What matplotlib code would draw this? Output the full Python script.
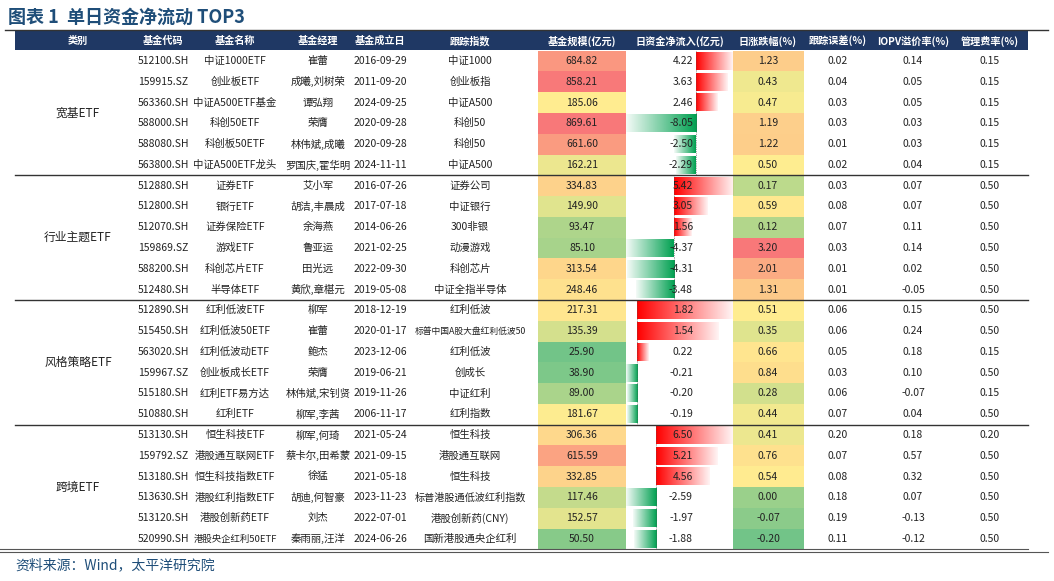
import numpy as np
import matplotlib
matplotlib.use("Agg")
import matplotlib.pyplot as plt
from matplotlib.colors import LinearSegmentedColormap, to_rgb

plt.rcParams["font.family"] = ["Noto Sans CJK SC", "DejaVu Sans"]

groups = ["宽基ETF", "行业主题ETF", "风格策略ETF", "跨境ETF"]
codes = ["512100.SH","159915.SZ","563360.SH","588000.SH","588080.SH","563800.SH",
         "512880.SH","512800.SH","512070.SH","159869.SZ","588200.SH","512480.SH",
         "512890.SH","515450.SH","563020.SH","159967.SZ","515180.SH","510880.SH",
         "513130.SH","159792.SZ","513180.SH","513630.SH","513120.SH","520990.SH"]
names = ["中证1000ETF","创业板ETF","中证A500ETF基金","科创50ETF","科创板50ETF","中证A500ETF龙头",
         "证券ETF","银行ETF","证券保险ETF","游戏ETF","科创芯片ETF","半导体ETF",
         "红利低波ETF","红利低波50ETF","红利低波动ETF","创业板成长ETF","红利ETF易方达","红利ETF",
         "恒生科技ETF","港股通互联网ETF","恒生科技指数ETF","港股红利指数ETF","港股创新药ETF","港股央企红利50ETF"]
managers = ["崔蕾","成曦,刘树荣","谭弘翔","荣膺","林伟斌,成曦","罗国庆,霍华明",
            "艾小军","胡洁,丰晨成","余海燕","鲁亚运","田光远","黄欣,章椹元",
            "柳军","崔蕾","鲍杰","荣膺","林伟斌,宋钊贤","柳军,李茜",
            "柳军,何琦","蔡卡尔,田希蒙","徐猛","胡迪,何智豪","刘杰","秦雨丽,汪洋"]
dates = ["2016-09-29","2011-09-20","2024-09-25","2020-09-28","2020-09-28","2024-11-11",
         "2016-07-26","2017-07-18","2014-06-26","2021-02-25","2022-09-30","2019-05-08",
         "2018-12-19","2020-01-17","2023-12-06","2019-06-21","2019-11-26","2006-11-17",
         "2021-05-24","2021-09-15","2021-05-18","2023-11-23","2022-07-01","2024-06-26"]
indexes = ["中证1000","创业板指","中证A500","科创50","科创50","中证A500",
           "证券公司","中证银行","300非银","动漫游戏","科创芯片","中证全指半导体",
           "红利低波","标普中国A股大盘红利低波50","红利低波","创成长","中证红利","红利指数",
           "恒生科技","港股通互联网","恒生科技","标普港股通低波红利指数","港股创新药(CNY)","国新港股通央企红利"]
sizes = [684.82,858.21,185.06,869.61,661.60,162.21,
         334.83,149.90,93.47,85.10,313.54,248.46,
         217.31,135.39,25.90,38.90,89.00,181.67,
         306.36,615.59,332.85,117.46,152.57,50.50]
flows = [4.22,3.63,2.46,-8.05,-2.50,-2.29,
         5.42,3.05,1.56,-4.37,-4.31,-3.48,
         1.82,1.54,0.22,-0.21,-0.20,-0.19,
         6.50,5.21,4.56,-2.59,-1.97,-1.88]
changes = [1.23,0.43,0.47,1.19,1.22,0.50,
           0.17,0.59,0.12,3.20,2.01,1.31,
           0.51,0.35,0.66,0.84,0.28,0.44,
           0.41,0.76,0.54,0.00,-0.07,-0.20]
track_err = [0.02,0.04,0.03,0.03,0.01,0.02,
             0.03,0.08,0.07,0.03,0.01,0.01,
             0.06,0.06,0.05,0.03,0.06,0.07,
             0.20,0.07,0.08,0.18,0.19,0.11]
iopv = [0.14,0.05,0.05,0.03,0.03,0.04,
        0.07,0.07,0.11,0.14,0.02,-0.05,
        0.15,0.24,0.18,0.10,-0.07,0.04,
        0.18,0.57,0.32,0.07,-0.13,-0.12]
fees = [0.15,0.15,0.15,0.15,0.15,0.15,
        0.50,0.50,0.50,0.50,0.50,0.50,
        0.50,0.50,0.15,0.50,0.15,0.50,
        0.20,0.50,0.50,0.50,0.50,0.50]
headers = ["类别","基金代码","基金名称","基金经理","基金成立日","跟踪指数",
           "基金规模(亿元)","日资金净流入(亿元)","日涨跌幅(%)","跟踪误差(%)","IOPV溢价率(%)","管理费率(%)"]

fig = plt.figure(figsize=(10.54, 5.81), dpi=100)
ax = fig.add_axes([0, 0, 1, 1])
ax.set_xlim(0, 1054); ax.set_ylim(581, 0); ax.axis("off")

navy = "#1F3864"
ax.text(8, 17, "图表 1  单日资金净流动 TOP3", fontsize=13, fontweight="bold", color="#1F4E79", va="center")
ax.plot([5, 1048], [30, 30], color="#333333", lw=1)
ax.add_patch(plt.Rectangle((15, 31), 1013, 19, color=navy, lw=0))
hx = [78, 163, 235, 318, 380, 470, 582, 680, 768, 838, 913, 990]
for x, h in zip(hx, headers):
    ax.text(x, 41, h, color="white", fontsize=7.3, fontweight="bold", ha="center", va="center")

y0, dy = 61, 20.78
cmap = LinearSegmentedColormap.from_list("ryg", ["#63BE7B", "#FFEB84", "#F8696B"])

def heat(vals):
    v = np.array(vals); lo, mid, hi = v.min(), np.median(v), v.max()
    out = []
    for x in v:
        t = 0.5 * (x - lo) / (mid - lo) if x <= mid else 0.5 + 0.5 * (x - mid) / (hi - mid)
        out.append(cmap(t))
    return out

def fs(t, width):
    # shrink long strings to fit their column
    n = sum(1.0 if ord(c) > 255 else 0.58 for c in t)
    return min(7.5, width / (n * 1.39))

sc = heat(sizes); cc = heat(changes)
fx0, fx1 = 626, 733
grad = np.linspace(0, 1, 64)[None, :]
for i in range(24):
    y = y0 + i * dy
    top = y - dy / 2
    ax.add_patch(plt.Rectangle((538, top), 88, dy, color=sc[i], lw=0, alpha=0.9))
    ax.add_patch(plt.Rectangle((733, top), 71, dy, color=cc[i], lw=0, alpha=0.9))
    g = i // 6
    gv = flows[g * 6:(g + 1) * 6]
    lo, hi = min(min(gv), 0), max(max(gv), 0)
    sc_px = (fx1 - fx0) / (hi - lo)
    axis_x = fx0 - lo * sc_px
    v = flows[i]
    L = abs(v) * sc_px
    base = to_rgb("#FF0000") if v > 0 else to_rgb("#00A050")
    img = np.zeros((1, 64, 4)); img[..., :3] = base
    img[..., 3] = 1 - grad * 0.95
    if v > 0:
        ext = (axis_x, axis_x + L, top + dy - 1.5, top + 1.5)
    else:
        img = img[:, ::-1]
        ext = (axis_x - L, axis_x, top + dy - 1.5, top + 1.5)
    ax.imshow(img, extent=ext, aspect="auto", interpolation="bilinear", zorder=2)
    ax.plot([axis_x, axis_x], [top, top + dy], color="#555555", lw=0.5, ls=":", zorder=3)
    cells = [(163, codes[i], 60), (235, names[i], 84), (318, managers[i], 74), (380, dates[i], 60),
             (470, indexes[i], 112),
             (582, f"{sizes[i]:.2f}", 80), (768, f"{changes[i]:.2f}", 70), (838, f"{track_err[i]:.2f}", 70),
             (913, f"{iopv[i]:.2f}", 70), (990, f"{fees[i]:.2f}", 70)]
    for x, t, w in cells:
        ax.text(x, y, t, fontsize=fs(t, w), ha="center", va="center", color="#222222", zorder=4)
    ax.text(693, y, f"{flows[i]:.2f}", fontsize=7.5, ha="right", va="center", color="#222222", zorder=4)

for g in range(4):
    yc = y0 + (g * 6 + 2.5) * dy
    ax.text(78, yc, groups[g], fontsize=8.5, ha="center", va="center", color="#222222")
    if g > 0:
        yl = y0 + (g * 6 - 0.5) * dy
        ax.plot([15, 1028], [yl, yl], color="#333333", lw=1, zorder=5)
yb = y0 + 23.5 * dy
ax.plot([0, 1028], [yb, yb], color="#555555", lw=0.8)
ax.plot([0, 1048], [yb + 2.5, yb + 2.5], color="#555555", lw=0.8)
ax.text(15, 565, "资料来源：Wind，太平洋研究院", fontsize=10, color="#1F4E79", va="center")

fig.savefig("out.png", dpi=100)
